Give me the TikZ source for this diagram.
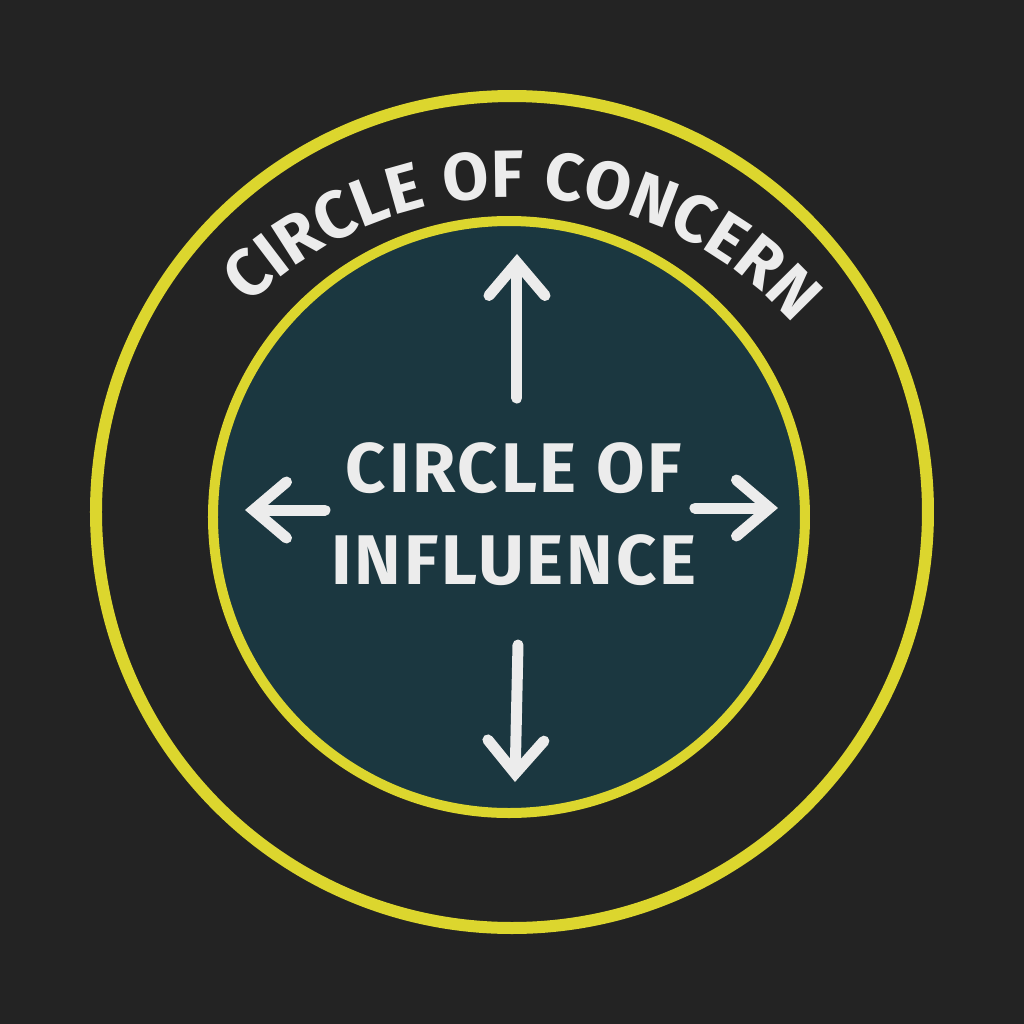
\documentclass[tikz,border=0pt]{standalone}
\usepackage{fontspec}
\usetikzlibrary{arrows.meta,decorations.text}

\newfontfamily\chalkfont[LetterSpace=4]{Fira Sans}

\definecolor{board}{HTML}{232323}
\definecolor{boardteal}{HTML}{1B3740}
\definecolor{chalkyellow}{HTML}{DCD62E}
\definecolor{chalkwhite}{HTML}{ECECEC}

\begin{document}
\begin{tikzpicture}[
    ring/.style={
        circle,
        draw=chalkyellow,
        inner sep=0pt,
    },
    label/.style={
        text=chalkwhite,
        align=center,
        font=\chalkfont\bfseries\fontsize{20}{26}\selectfont,
    },
    chalkarrow/.style={
        draw=chalkwhite,
        line width=1.1mm,
        line cap=round,
        line join=round,
        -{Straight Barb[length=3.3mm, width=5.6mm, line cap=round]}
    }
]

    % board
    \fill[board] (-5.12,-5.12) rectangle (5.12,5.12);
    \useasboundingbox (-5.12,-5.12) rectangle (5.12,5.12);

    \node[ring, line width=1.2mm, minimum size=83.2mm] (concern) at (0,0) {};
    \node[ring, line width=1.0mm, minimum size=59.2mm, fill=boardteal] (influence) at (-0.03,-0.05) {};

    \node[label] (text) at (0.02,-0.02) {CIRCLE OF\\INFLUENCE};

    \coordinate (upbase) at (0.05,1.14);
    \coordinate (uptip) at (0.05,2.58);
    \coordinate (downbase) at (0.06,-1.33);
    \coordinate (downtip) at (0.03,-2.70);
    \coordinate (leftbase) at (-1.87,0.02);
    \coordinate (lefttip) at (-2.67,0.02);
    \coordinate (rightbase) at (1.83,0.04);
    \coordinate (righttip) at (2.66,0.04);

    \draw[chalkarrow] (upbase) -- (uptip);
    \draw[chalkarrow] (downbase) -- (downtip);
    \draw[chalkarrow] (leftbase) -- (lefttip);
    \draw[chalkarrow] (rightbase) -- (righttip);

    % title along the top
    \path[decorate, decoration={text along path, text align=center,
        text color=chalkwhite,
        text={|\chalkfont\bfseries\fontsize{19}{19}\selectfont|CIRCLE OF CONCERN}}]
        (0,-0.6) ++(150:3.75) arc[start angle=150, end angle=26, radius=3.75];
\end{tikzpicture}
\end{document}
